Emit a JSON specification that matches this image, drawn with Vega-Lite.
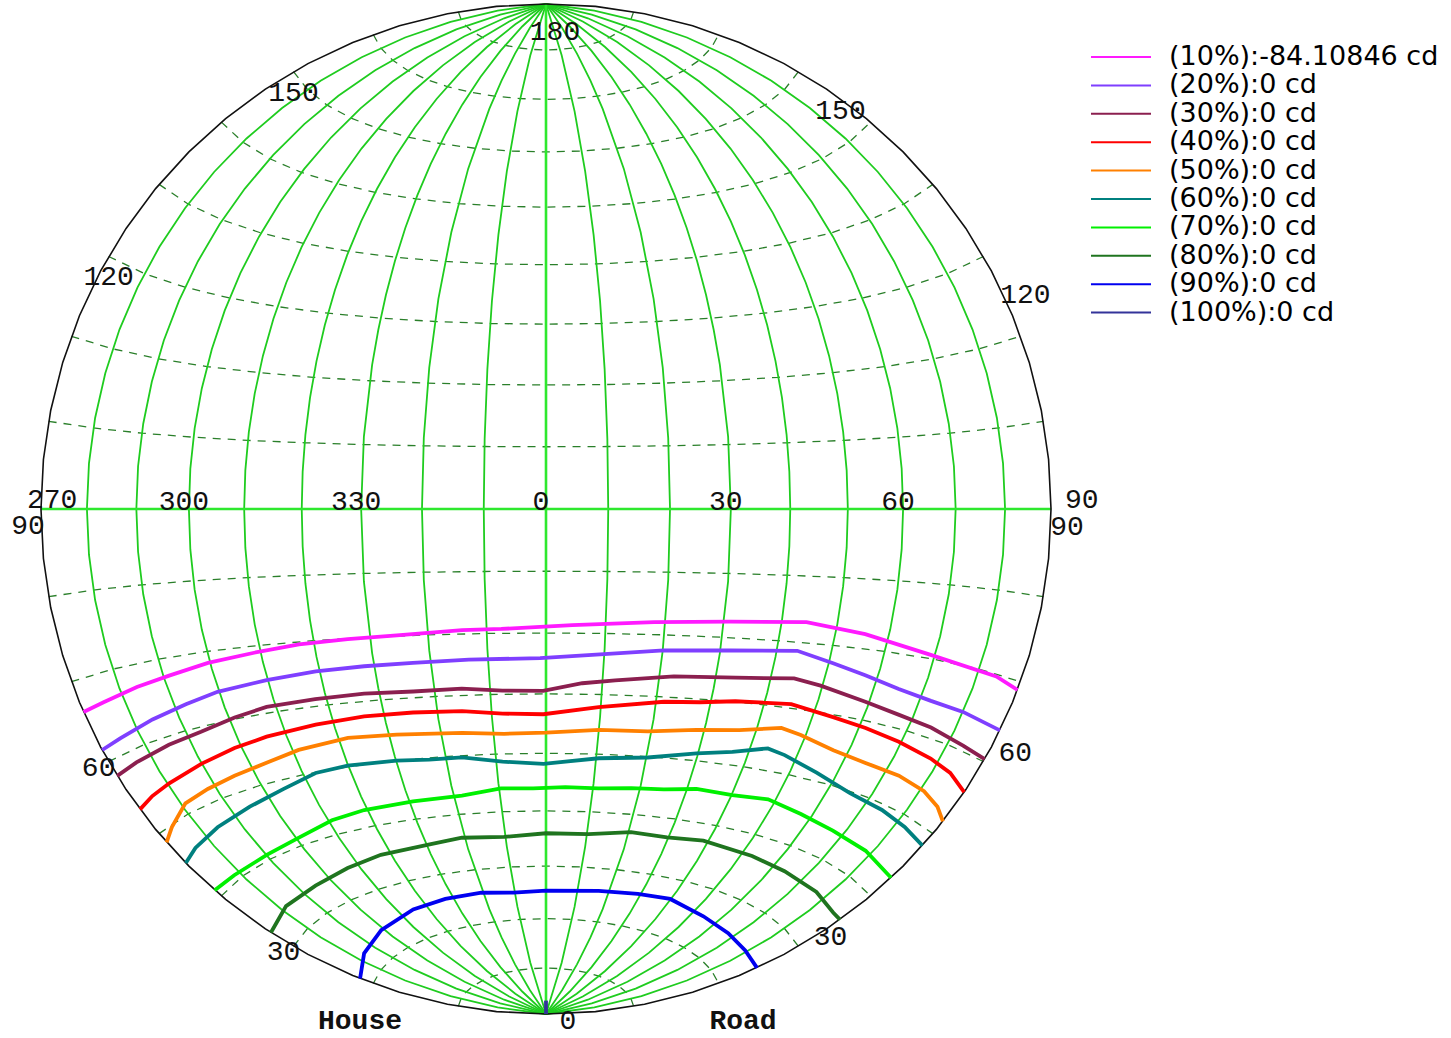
{
  "$schema": "https://vega.github.io/schema/vega-lite/v6.json",
  "width": 1451,
  "height": 1038,
  "autosize": "none",
  "padding": 0,
  "background": "white",
  "config": {"view": {"stroke": null}},
  "projection": {"type": "azimuthalEqualArea", "scale": 357.1, "translate": [546, 509]},
  "layer": [
    {
      "data": {"values": [
        {"type": "Feature", "properties": {"lat": -80}, "geometry": {"type": "LineString", "coordinates": [[-90,-80],[-80,-80],[-70,-80],[-60,-80],[-50,-80],[-40,-80],[-30,-80],[-20,-80],[-10,-80],[0,-80],[10,-80],[20,-80],[30,-80],[40,-80],[50,-80],[60,-80],[70,-80],[80,-80],[90,-80]]}},
        {"type": "Feature", "properties": {"lat": -70}, "geometry": {"type": "LineString", "coordinates": [[-90,-70],[-80,-70],[-70,-70],[-60,-70],[-50,-70],[-40,-70],[-30,-70],[-20,-70],[-10,-70],[0,-70],[10,-70],[20,-70],[30,-70],[40,-70],[50,-70],[60,-70],[70,-70],[80,-70],[90,-70]]}},
        {"type": "Feature", "properties": {"lat": -60}, "geometry": {"type": "LineString", "coordinates": [[-90,-60],[-80,-60],[-70,-60],[-60,-60],[-50,-60],[-40,-60],[-30,-60],[-20,-60],[-10,-60],[0,-60],[10,-60],[20,-60],[30,-60],[40,-60],[50,-60],[60,-60],[70,-60],[80,-60],[90,-60]]}},
        {"type": "Feature", "properties": {"lat": -50}, "geometry": {"type": "LineString", "coordinates": [[-90,-50],[-80,-50],[-70,-50],[-60,-50],[-50,-50],[-40,-50],[-30,-50],[-20,-50],[-10,-50],[0,-50],[10,-50],[20,-50],[30,-50],[40,-50],[50,-50],[60,-50],[70,-50],[80,-50],[90,-50]]}},
        {"type": "Feature", "properties": {"lat": -40}, "geometry": {"type": "LineString", "coordinates": [[-90,-40],[-80,-40],[-70,-40],[-60,-40],[-50,-40],[-40,-40],[-30,-40],[-20,-40],[-10,-40],[0,-40],[10,-40],[20,-40],[30,-40],[40,-40],[50,-40],[60,-40],[70,-40],[80,-40],[90,-40]]}},
        {"type": "Feature", "properties": {"lat": -30}, "geometry": {"type": "LineString", "coordinates": [[-90,-30],[-80,-30],[-70,-30],[-60,-30],[-50,-30],[-40,-30],[-30,-30],[-20,-30],[-10,-30],[0,-30],[10,-30],[20,-30],[30,-30],[40,-30],[50,-30],[60,-30],[70,-30],[80,-30],[90,-30]]}},
        {"type": "Feature", "properties": {"lat": -20}, "geometry": {"type": "LineString", "coordinates": [[-90,-20],[-80,-20],[-70,-20],[-60,-20],[-50,-20],[-40,-20],[-30,-20],[-20,-20],[-10,-20],[0,-20],[10,-20],[20,-20],[30,-20],[40,-20],[50,-20],[60,-20],[70,-20],[80,-20],[90,-20]]}},
        {"type": "Feature", "properties": {"lat": -10}, "geometry": {"type": "LineString", "coordinates": [[-90,-10],[-80,-10],[-70,-10],[-60,-10],[-50,-10],[-40,-10],[-30,-10],[-20,-10],[-10,-10],[0,-10],[10,-10],[20,-10],[30,-10],[40,-10],[50,-10],[60,-10],[70,-10],[80,-10],[90,-10]]}},
        {"type": "Feature", "properties": {"lat": 10}, "geometry": {"type": "LineString", "coordinates": [[-90,10],[-80,10],[-70,10],[-60,10],[-50,10],[-40,10],[-30,10],[-20,10],[-10,10],[0,10],[10,10],[20,10],[30,10],[40,10],[50,10],[60,10],[70,10],[80,10],[90,10]]}},
        {"type": "Feature", "properties": {"lat": 20}, "geometry": {"type": "LineString", "coordinates": [[-90,20],[-80,20],[-70,20],[-60,20],[-50,20],[-40,20],[-30,20],[-20,20],[-10,20],[0,20],[10,20],[20,20],[30,20],[40,20],[50,20],[60,20],[70,20],[80,20],[90,20]]}},
        {"type": "Feature", "properties": {"lat": 30}, "geometry": {"type": "LineString", "coordinates": [[-90,30],[-80,30],[-70,30],[-60,30],[-50,30],[-40,30],[-30,30],[-20,30],[-10,30],[0,30],[10,30],[20,30],[30,30],[40,30],[50,30],[60,30],[70,30],[80,30],[90,30]]}},
        {"type": "Feature", "properties": {"lat": 40}, "geometry": {"type": "LineString", "coordinates": [[-90,40],[-80,40],[-70,40],[-60,40],[-50,40],[-40,40],[-30,40],[-20,40],[-10,40],[0,40],[10,40],[20,40],[30,40],[40,40],[50,40],[60,40],[70,40],[80,40],[90,40]]}},
        {"type": "Feature", "properties": {"lat": 50}, "geometry": {"type": "LineString", "coordinates": [[-90,50],[-80,50],[-70,50],[-60,50],[-50,50],[-40,50],[-30,50],[-20,50],[-10,50],[0,50],[10,50],[20,50],[30,50],[40,50],[50,50],[60,50],[70,50],[80,50],[90,50]]}},
        {"type": "Feature", "properties": {"lat": 60}, "geometry": {"type": "LineString", "coordinates": [[-90,60],[-80,60],[-70,60],[-60,60],[-50,60],[-40,60],[-30,60],[-20,60],[-10,60],[0,60],[10,60],[20,60],[30,60],[40,60],[50,60],[60,60],[70,60],[80,60],[90,60]]}},
        {"type": "Feature", "properties": {"lat": 70}, "geometry": {"type": "LineString", "coordinates": [[-90,70],[-80,70],[-70,70],[-60,70],[-50,70],[-40,70],[-30,70],[-20,70],[-10,70],[0,70],[10,70],[20,70],[30,70],[40,70],[50,70],[60,70],[70,70],[80,70],[90,70]]}},
        {"type": "Feature", "properties": {"lat": 80}, "geometry": {"type": "LineString", "coordinates": [[-90,80],[-80,80],[-70,80],[-60,80],[-50,80],[-40,80],[-30,80],[-20,80],[-10,80],[0,80],[10,80],[20,80],[30,80],[40,80],[50,80],[60,80],[70,80],[80,80],[90,80]]}}
      ]},
      "mark": {"type": "geoshape", "filled": false, "stroke": "#2a7f2a", "strokeWidth": 1.3, "strokeDash": [8, 7]}
    },
    {
      "data": {"values": [
        {"type": "Feature", "properties": {"C": -80}, "geometry": {"type": "LineString", "coordinates": [[-80,-90],[-80,-45],[-80,0],[-80,45],[-80,90]]}},
        {"type": "Feature", "properties": {"C": -70}, "geometry": {"type": "LineString", "coordinates": [[-70,-90],[-70,-45],[-70,0],[-70,45],[-70,90]]}},
        {"type": "Feature", "properties": {"C": -60}, "geometry": {"type": "LineString", "coordinates": [[-60,-90],[-60,-45],[-60,0],[-60,45],[-60,90]]}},
        {"type": "Feature", "properties": {"C": -50}, "geometry": {"type": "LineString", "coordinates": [[-50,-90],[-50,-45],[-50,0],[-50,45],[-50,90]]}},
        {"type": "Feature", "properties": {"C": -40}, "geometry": {"type": "LineString", "coordinates": [[-40,-90],[-40,-45],[-40,0],[-40,45],[-40,90]]}},
        {"type": "Feature", "properties": {"C": -30}, "geometry": {"type": "LineString", "coordinates": [[-30,-90],[-30,-45],[-30,0],[-30,45],[-30,90]]}},
        {"type": "Feature", "properties": {"C": -20}, "geometry": {"type": "LineString", "coordinates": [[-20,-90],[-20,-45],[-20,0],[-20,45],[-20,90]]}},
        {"type": "Feature", "properties": {"C": -10}, "geometry": {"type": "LineString", "coordinates": [[-10,-90],[-10,-45],[-10,0],[-10,45],[-10,90]]}},
        {"type": "Feature", "properties": {"C": 10}, "geometry": {"type": "LineString", "coordinates": [[10,-90],[10,-45],[10,0],[10,45],[10,90]]}},
        {"type": "Feature", "properties": {"C": 20}, "geometry": {"type": "LineString", "coordinates": [[20,-90],[20,-45],[20,0],[20,45],[20,90]]}},
        {"type": "Feature", "properties": {"C": 30}, "geometry": {"type": "LineString", "coordinates": [[30,-90],[30,-45],[30,0],[30,45],[30,90]]}},
        {"type": "Feature", "properties": {"C": 40}, "geometry": {"type": "LineString", "coordinates": [[40,-90],[40,-45],[40,0],[40,45],[40,90]]}},
        {"type": "Feature", "properties": {"C": 50}, "geometry": {"type": "LineString", "coordinates": [[50,-90],[50,-45],[50,0],[50,45],[50,90]]}},
        {"type": "Feature", "properties": {"C": 60}, "geometry": {"type": "LineString", "coordinates": [[60,-90],[60,-45],[60,0],[60,45],[60,90]]}},
        {"type": "Feature", "properties": {"C": 70}, "geometry": {"type": "LineString", "coordinates": [[70,-90],[70,-45],[70,0],[70,45],[70,90]]}},
        {"type": "Feature", "properties": {"C": 80}, "geometry": {"type": "LineString", "coordinates": [[80,-90],[80,-45],[80,0],[80,45],[80,90]]}}
      ]},
      "mark": {"type": "geoshape", "filled": false, "stroke": "#1fcc1f", "strokeWidth": 1.8}
    },
    {
      "data": {"values": [
        {"type": "Feature", "properties": {"name": "equator"}, "geometry": {"type": "LineString", "coordinates": [[-90,0],[-45,0],[0,0],[45,0],[90,0]]}},
        {"type": "Feature", "properties": {"name": "C0"}, "geometry": {"type": "LineString", "coordinates": [[0,-90],[0,-45],[0,0],[0,45],[0,90]]}}
      ]},
      "mark": {"type": "geoshape", "filled": false, "stroke": "#2ee82e", "strokeWidth": 2.6}
    },
    {
      "data": {"values": [
        {"type": "Feature", "properties": {"name": "C270"}, "geometry": {"type": "LineString", "coordinates": [[-90,-90],[-90,-45],[-90,0],[-90,45],[-90,90]]}},
        {"type": "Feature", "properties": {"name": "C90"}, "geometry": {"type": "LineString", "coordinates": [[90,-90],[90,-45],[90,0],[90,45],[90,90]]}}
      ]},
      "mark": {"type": "geoshape", "filled": false, "stroke": "#111111", "strokeWidth": 1.6}
    },
    {
      "data": {"values": [
        {"type": "Feature", "properties": {"level": "(10%):-84.10846 cd"}, "geometry": {"type": "LineString", "coordinates": [[-90,-23.7],[-84.6,-23.5],[-76.2,-22.9],[-68.8,-22.4],[-60.4,-21.6],[-51.2,-21.0],[-42.7,-20.4],[-33.9,-20.1],[-25.3,-19.9],[-14.1,-19.4],[-7.5,-19.3],[4.4,-18.7],[18.1,-18.0],[31.1,-17.5],[44.4,-16.9],[55.5,-17.9],[69.1,-19.5],[84.2,-20.3],[90,-21.0]]}},
        {"type": "Feature", "properties": {"level": "(20%):0 cd"}, "geometry": {"type": "LineString", "coordinates": [[-90,-28.5],[-84.6,-28.2],[-75.7,-27.4],[-67.5,-26.6],[-60.3,-25.8],[-50.2,-25.2],[-40.7,-24.7],[-31.8,-24.5],[-23.1,-24.4],[-13.3,-24.2],[-1.0,-24.1],[7.9,-23.5],[20.2,-22.5],[31.8,-22.0],[43.7,-21.3],[50.8,-22.6],[57.5,-23.7],[64.9,-24.8],[72.3,-25.4],[80.0,-25.6],[90,-26.0]]}},
        {"type": "Feature", "properties": {"level": "(30%):0 cd"}, "geometry": {"type": "LineString", "coordinates": [[-90,-31.9],[-83.9,-31.6],[-74.8,-31.1],[-66.8,-30.7],[-58.8,-29.8],[-51.8,-29.1],[-42.1,-28.9],[-32.8,-28.8],[-23.8,-29.0],[-15.0,-28.9],[-0.5,-29.5],[6.4,-28.2],[12.2,-27.6],[22.5,-26.6],[33.6,-26.2],[44.3,-25.5],[49.6,-26.1],[59.2,-27.4],[66.8,-28.2],[74.7,-28.7],[83.5,-29.4],[90,-29.7]]}},
        {"type": "Feature", "properties": {"level": "(40%):0 cd"}, "geometry": {"type": "LineString", "coordinates": [[-90,-36.5],[-85.1,-36.0],[-79.5,-35.6],[-70.1,-34.8],[-61.5,-34.0],[-54.0,-33.4],[-43.5,-32.8],[-33.8,-32.4],[-24.5,-32.4],[-15.4,-32.6],[-0.5,-33.4],[9.6,-32.1],[21.4,-30.8],[34.5,-29.9],[45.1,-29.4],[54.0,-30.4],[61.3,-31.0],[69.4,-31.7],[78.0,-32.4],[84.1,-33.0],[90,-34.1]]}},
        {"type": "Feature", "properties": {"level": "(50%):0 cd"}, "geometry": {"type": "LineString", "coordinates": [[-90,-41.3],[-85.9,-40.3],[-78.9,-38.7],[-71.9,-38.2],[-64.5,-37.7],[-56.4,-37.1],[-48.7,-36.2],[-38.1,-35.5],[-28.5,-35.8],[-15.9,-36.2],[0,-36.5],[10.0,-35.9],[28.5,-35.0],[44.7,-33.2],[49.0,-33.8],[56.8,-35.1],[64.7,-35.7],[73.3,-35.9],[80.9,-36.4],[86.3,-37.2],[90,-38.2]]}},
        {"type": "Feature", "properties": {"level": "(60%):0 cd"}, "geometry": {"type": "LineString", "coordinates": [[-90,-44.5],[-84.6,-43.9],[-75.7,-43.2],[-65.3,-42.4],[-55.8,-41.4],[-47.3,-40.1],[-40.1,-39.8],[-29.9,-40.0],[-16.7,-40.3],[-0.5,-41.8],[10.5,-40.7],[29.7,-38.8],[43.5,-36.6],[47.4,-37.2],[55.6,-38.8],[65.1,-40.3],[74.5,-40.8],[82.4,-41.3],[90,-41.8]]}},
        {"type": "Feature", "properties": {"level": "(70%):0 cd"}, "geometry": {"type": "LineString", "coordinates": [[-90,-49.0],[-81.8,-49.3],[-69.8,-49.3],[-59.2,-48.8],[-49.1,-47.7],[-40.7,-47.2],[-29.2,-47.0],[-18.2,-46.8],[-9.6,-45.9],[4.1,-45.8],[18.1,-45.5],[32.0,-44.6],[48.3,-44.3],[57.3,-45.2],[67.0,-45.9],[78.2,-46.3],[90,-46.9]]}},
        {"type": "Feature", "properties": {"level": "(80%):0 cd"}, "geometry": {"type": "LineString", "coordinates": [[-90,-57.0],[-77.9,-56.2],[-65.1,-56.0],[-53.2,-55.4],[-42.6,-54.8],[-29.2,-54.6],[-20.7,-54.1],[0,-54.0],[20.5,-53.1],[38.7,-52.8],[52.8,-53.3],[63.7,-53.7],[76.4,-54.0],[86.2,-54.5],[90,-54.4]]}},
        {"type": "Feature", "properties": {"level": "(90%):0 cd"}, "geometry": {"type": "LineString", "coordinates": [[-90,-68.4],[-75.7,-67.1],[-61.0,-65.9],[-44.8,-64.8],[-32.6,-64.4],[-20.5,-64.3],[0,-64.6],[16.6,-64.2],[29.0,-63.8],[39.7,-63.5],[54.1,-64.5],[67.1,-65.0],[78.9,-65.3],[90,-65.3]]}},
        {"type": "Feature", "properties": {"level": "(100%):0 cd"}, "geometry": {"type": "LineString", "coordinates": [[0,-90],[0,-87]]}}
      ]},
      "mark": {"type": "geoshape", "filled": false, "strokeWidth": 3.8},
      "encoding": {
        "color": {
          "field": "properties.level",
          "type": "nominal",
          "scale": {
            "domain": ["(10%):-84.10846 cd", "(20%):0 cd", "(30%):0 cd", "(40%):0 cd", "(50%):0 cd", "(60%):0 cd", "(70%):0 cd", "(80%):0 cd", "(90%):0 cd", "(100%):0 cd"],
            "range": ["#ff1aff", "#7f3fff", "#8b1f4f", "#ff0000", "#ff8000", "#00807f", "#00f000", "#1f741f", "#0000f0", "#333399"]
          },
          "legend": {
            "title": null,
            "orient": "none",
            "legendX": 1090,
            "legendY": 43,
            "padding": 0,
            "symbolType": "stroke",
            "symbolSize": 3600,
            "symbolStrokeWidth": 2,
            "labelFont": "DejaVu Sans",
            "labelFontSize": 27,
            "labelColor": "#000000",
            "labelOffset": 17,
            "labelLimit": 500,
            "clipHeight": 28,
            "rowPadding": 0.4
          }
        }
      }
    },
    {
      "data": {"values": [
        {"t": "300", "lon": -60, "lat": 0},
        {"t": "330", "lon": -30, "lat": 0},
        {"t": "0", "lon": 0, "lat": 0},
        {"t": "30", "lon": 30, "lat": 0},
        {"t": "60", "lon": 60, "lat": 0}
      ]},
      "mark": {"type": "text", "font": "Liberation Mono", "fontSize": 28, "color": "#111111", "align": "center", "baseline": "alphabetic", "dx": -5, "dy": 1},
      "encoding": {
        "longitude": {"field": "lon", "type": "quantitative"},
        "latitude": {"field": "lat", "type": "quantitative"},
        "text": {"field": "t"}
      }
    },
    {
      "data": {"values": [{"t": "270", "lon": -90, "lat": 0}]},
      "mark": {"type": "text", "font": "Liberation Mono", "fontSize": 28, "color": "#111111", "align": "left", "baseline": "alphabetic", "dx": -14, "dy": -1},
      "encoding": {
        "longitude": {"field": "lon", "type": "quantitative"},
        "latitude": {"field": "lat", "type": "quantitative"},
        "text": {"field": "t"}
      }
    },
    {
      "data": {"values": [{"t": "90", "lon": 90, "lat": 0}]},
      "mark": {"type": "text", "font": "Liberation Mono", "fontSize": 28, "color": "#111111", "align": "left", "baseline": "alphabetic", "dx": 14, "dy": -1},
      "encoding": {
        "longitude": {"field": "lon", "type": "quantitative"},
        "latitude": {"field": "lat", "type": "quantitative"},
        "text": {"field": "t"}
      }
    },
    {
      "data": {"values": [
        {"t": "150", "lon": -90, "lat": 60},
        {"t": "120", "lon": -90, "lat": 30}
      ]},
      "mark": {"type": "text", "font": "Liberation Mono", "fontSize": 28, "color": "#111111", "align": "center", "baseline": "middle", "dx": 0, "dy": 21},
      "encoding": {
        "longitude": {"field": "lon", "type": "quantitative"},
        "latitude": {"field": "lat", "type": "quantitative"},
        "text": {"field": "t"}
      }
    },
    {
      "data": {"values": [{"t": "90", "lon": -90, "lat": 0}]},
      "mark": {"type": "text", "font": "Liberation Mono", "fontSize": 28, "color": "#111111", "align": "center", "baseline": "middle", "dx": -13, "dy": 17},
      "encoding": {
        "longitude": {"field": "lon", "type": "quantitative"},
        "latitude": {"field": "lat", "type": "quantitative"},
        "text": {"field": "t"}
      }
    },
    {
      "data": {"values": [
        {"t": "60", "lon": -90, "lat": -30},
        {"t": "30", "lon": -90, "lat": -60}
      ]},
      "mark": {"type": "text", "font": "Liberation Mono", "fontSize": 28, "color": "#111111", "align": "center", "baseline": "middle", "dx": -10, "dy": 6},
      "encoding": {
        "longitude": {"field": "lon", "type": "quantitative"},
        "latitude": {"field": "lat", "type": "quantitative"},
        "text": {"field": "t"}
      }
    },
    {
      "data": {"values": [
        {"t": "150", "lon": 90, "lat": 60},
        {"t": "120", "lon": 90, "lat": 30}
      ]},
      "mark": {"type": "text", "font": "Liberation Mono", "fontSize": 28, "color": "#111111", "align": "center", "baseline": "middle", "dx": 42, "dy": 39},
      "encoding": {
        "longitude": {"field": "lon", "type": "quantitative"},
        "latitude": {"field": "lat", "type": "quantitative"},
        "text": {"field": "t"}
      }
    },
    {
      "data": {"values": [{"t": "90", "lon": 90, "lat": 0}]},
      "mark": {"type": "text", "font": "Liberation Mono", "fontSize": 28, "color": "#111111", "align": "center", "baseline": "middle", "dx": 16, "dy": 18},
      "encoding": {
        "longitude": {"field": "lon", "type": "quantitative"},
        "latitude": {"field": "lat", "type": "quantitative"},
        "text": {"field": "t"}
      }
    },
    {
      "data": {"values": [
        {"t": "60", "lon": 90, "lat": -30},
        {"t": "30", "lon": 90, "lat": -60}
      ]},
      "mark": {"type": "text", "font": "Liberation Mono", "fontSize": 28, "color": "#111111", "align": "center", "baseline": "middle", "dx": 32, "dy": -9},
      "encoding": {
        "longitude": {"field": "lon", "type": "quantitative"},
        "latitude": {"field": "lat", "type": "quantitative"},
        "text": {"field": "t"}
      }
    },
    {
      "data": {"values": [{"t": "180", "lon": 0, "lat": 90}]},
      "mark": {"type": "text", "font": "Liberation Mono", "fontSize": 28, "color": "#111111", "align": "center", "baseline": "middle", "dx": 9, "dy": 28},
      "encoding": {
        "longitude": {"field": "lon", "type": "quantitative"},
        "latitude": {"field": "lat", "type": "quantitative"},
        "text": {"field": "t"}
      }
    },
    {
      "data": {"values": [{"t": "0", "lon": 0, "lat": -90}]},
      "mark": {"type": "text", "font": "Liberation Mono", "fontSize": 28, "color": "#111111", "align": "center", "baseline": "middle", "dx": 22, "dy": 7},
      "encoding": {
        "longitude": {"field": "lon", "type": "quantitative"},
        "latitude": {"field": "lat", "type": "quantitative"},
        "text": {"field": "t"}
      }
    },
    {
      "data": {"values": [{"t": "House", "lon": 0, "lat": -90}]},
      "mark": {"type": "text", "font": "Liberation Mono", "fontSize": 28, "fontWeight": "bold", "color": "#111111", "align": "center", "baseline": "middle", "dx": -186, "dy": 7},
      "encoding": {
        "longitude": {"field": "lon", "type": "quantitative"},
        "latitude": {"field": "lat", "type": "quantitative"},
        "text": {"field": "t"}
      }
    },
    {
      "data": {"values": [{"t": "Road", "lon": 0, "lat": -90}]},
      "mark": {"type": "text", "font": "Liberation Mono", "fontSize": 28, "fontWeight": "bold", "color": "#111111", "align": "center", "baseline": "middle", "dx": 197, "dy": 7},
      "encoding": {
        "longitude": {"field": "lon", "type": "quantitative"},
        "latitude": {"field": "lat", "type": "quantitative"},
        "text": {"field": "t"}
      }
    }
  ]
}
